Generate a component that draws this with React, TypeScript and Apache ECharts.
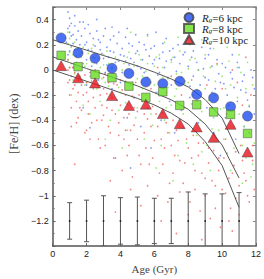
import React, { useEffect, useRef } from 'react';
import * as echarts from 'echarts';

// Binned mean [Fe/H] per age bin for three guiding radii
const binAges = [0.5, 1.5, 2.5, 3.5, 4.5, 5.5, 6.5, 7.5, 8.5, 9.5, 10.5, 11.5];
const feh6 = [0.254, 0.135, 0.093, 0.013, -0.028, -0.096, -0.109, -0.09, -0.195, -0.222, -0.292, -0.367];
const feh8 = [0.116, 0.026, -0.036, -0.062, -0.129, -0.218, -0.173, -0.282, -0.277, -0.334, -0.354, -0.505];
const feh10 = [0.034, -0.062, -0.103, -0.204, -0.282, -0.272, -0.347, -0.427, -0.453, -0.536, -0.432, -0.652];

// Model curves
const modelAges = [0, 1, 2, 3, 4, 5, 6, 7, 8, 9, 10, 11];
const model6 = [0.24, 0.199, 0.157, 0.114, 0.075, 0.032, -0.018, -0.072, -0.135, -0.236, -0.383, -0.665];
const model8 = [0.104, 0.058, 0.011, -0.034, -0.08, -0.127, -0.181, -0.238, -0.313, -0.43, -0.597, -0.859];
const model10 = [0.0, -0.045, -0.09, -0.135, -0.181, -0.226, -0.278, -0.344, -0.43, -0.57, -0.76, -1.092];

// Typical error bars
const errAges = [1, 2, 3, 4, 5, 6, 7, 8, 9, 10, 11];
const errCenter = -1.2;
const errHalf = [0.145, 0.165, 0.2, 0.185, 0.19, 0.18, 0.18, 0.23, 0.215, 0.215, 0.225];

// Individual stars [age, feh]
const blueDots = [
  [0.9, 0.46], [1.0, 0.41], [1.1, 0.37], [0.9, 0.33], [1.0, 0.3], [1.2, 0.28], [0.8, 0.22], [1.1, 0.19], [1.0, 0.15], [0.9, 0.12],
  [1.3, 0.35], [1.5, 0.31], [1.4, 0.24], [1.7, 0.27], [1.6, 0.2], [1.9, 0.33], [2.0, 0.22], [2.2, 0.29], [2.1, 0.16], [2.4, 0.25],
  [2.6, 0.31], [2.5, 0.19], [2.8, 0.22], [3.0, 0.27], [2.9, 0.13], [3.2, 0.18], [3.4, 0.24], [3.3, 0.1], [3.6, 0.14], [3.8, 0.21],
  [3.9, 0.07], [4.1, 0.17], [4.3, 0.26], [4.2, 0.11], [4.5, 0.04], [4.7, 0.19], [4.6, 0.09], [4.9, 0.13], [5.1, 0.22], [5.0, 0.03],
  [5.3, 0.08], [5.5, 0.16], [5.4, -0.02], [5.7, 0.11], [5.9, 0.05], [6.0, 0.19], [6.2, -0.04], [6.3, 0.09], [6.5, 0.14], [6.6, 0.02],
  [6.8, -0.06], [7.0, 0.08], [7.1, 0.17], [7.3, -0.01], [7.5, 0.05], [7.7, 0.12], [7.8, -0.09], [8.0, 0.03], [8.2, 0.1], [8.3, -0.05],
  [8.5, 0.06], [8.7, -0.12], [8.9, 0.01], [9.0, 0.09], [9.2, -0.08], [9.4, 0.03], [9.6, -0.15], [9.8, -0.03], [10.0, 0.05], [10.1, -0.11],
  [10.3, -0.2], [10.5, -0.02], [10.7, -0.14], [10.9, -0.25], [11.0, 0.02], [11.2, -0.09], [11.4, -0.18], [11.6, -0.29], [11.8, -0.06], [11.9, -0.35],
  [1.2, 0.02], [1.5, -0.05], [2.0, -0.12], [2.3, 0.03], [2.7, -0.08], [3.1, -0.02], [3.5, -0.15], [4.0, -0.1], [4.4, -0.38], [4.8, -0.22],
  [5.2, -0.45], [5.6, -0.3], [6.1, -0.18], [6.4, -0.4], [6.9, -0.25], [7.2, -0.5], [7.6, -0.32], [8.1, -0.22], [8.6, -0.42], [9.1, -0.3],
  [9.5, -0.5], [10.2, -0.38], [10.8, -0.55], [11.3, -0.45], [3.7, -0.7], [4.6, -0.78], [5.8, -0.62], [2.2, -0.46], [1.8, -0.3], [9.9, -0.68],
  [1.3, 0.43], [1.8, 0.38], [2.6, 0.4], [3.5, 0.34], [4.4, 0.33], [5.6, 0.28], [6.7, 0.25], [7.9, 0.21], [9.3, 0.17], [10.6, 0.12],
  [1.0, 0.35], [1.1, 0.27], [1.2, 0.21], [1.3, 0.16], [1.4, 0.11], [1.6, 0.38], [1.7, 0.14], [1.9, 0.2], [2.0, 0.08], [2.1, 0.36],
  [2.3, 0.15], [2.4, 0.1], [2.6, 0.05], [2.7, 0.24], [2.8, 0.16], [3.0, 0.09], [3.1, 0.33], [3.2, 0.04], [3.4, 0.15], [3.5, 0.02],
  [3.6, 0.27], [3.7, 0.06], [3.9, 0.3], [4.0, 0.12], [4.1, -0.02], [4.3, 0.07], [4.5, 0.21], [4.8, 0.06], [4.9, 0.28], [5.0, 0.15],
  [5.2, 0.01], [5.4, 0.2], [5.6, -0.06], [5.8, 0.17], [6.0, 0.08], [6.1, 0.3], [6.3, -0.02], [6.5, 0.21], [6.7, 0.07], [6.9, 0.15],
  [7.0, -0.12], [7.2, 0.1], [7.4, 0.2], [7.6, -0.06], [7.8, 0.14], [8.0, 0.25], [8.1, -0.13], [8.3, 0.15], [8.6, 0.0], [8.8, 0.18],
  [9.0, -0.06], [9.2, 0.12], [9.4, -0.18], [9.7, 0.08], [9.9, -0.1], [10.2, 0.02], [10.4, -0.28], [10.6, -0.07], [10.9, 0.06], [11.1, -0.16],
  [11.3, -0.04], [11.5, -0.24], [11.7, 0.0], [11.9, -0.15],
];
const greenDots = [
  [0.9, 0.3], [1.0, 0.25], [1.1, 0.18], [0.9, 0.08], [1.0, 0.02], [1.2, 0.12], [1.3, -0.03], [1.5, 0.16], [1.4, 0.06], [1.7, 0.1],
  [1.6, -0.06], [1.9, 0.03], [2.1, 0.13], [2.0, -0.1], [2.3, 0.06], [2.5, -0.02], [2.4, 0.2], [2.7, 0.09], [2.9, -0.07], [3.0, 0.04],
  [3.2, 0.15], [3.3, -0.13], [3.5, 0.01], [3.7, 0.1], [3.8, -0.05], [4.0, -0.18], [4.2, 0.05], [4.3, -0.09], [4.5, 0.14], [4.7, -0.02],
  [4.8, -0.22], [5.0, -0.07], [5.2, 0.08], [5.3, -0.15], [5.5, -0.01], [5.7, -0.26], [5.8, -0.1], [6.0, 0.03], [6.2, -0.18], [6.3, 0.12],
  [6.5, -0.06], [6.7, -0.3], [6.8, -0.14], [7.0, 0.06], [7.2, -0.21], [7.3, -0.03], [7.5, 0.15], [7.7, -0.35], [7.8, -0.11], [8.0, 0.01],
  [8.2, -0.27], [8.4, 0.09], [8.5, -0.16], [8.7, -0.4], [8.9, -0.05], [9.0, 0.12], [9.2, -0.24], [9.4, -0.47], [9.6, -0.09], [9.7, 0.04],
  [9.9, -0.31], [10.1, -0.55], [10.2, -0.15], [10.4, 0.07], [10.6, -0.38], [10.7, -0.62], [10.9, -0.22], [11.1, -0.02], [11.3, -0.45], [11.4, -0.7],
  [11.6, -0.28], [11.8, -0.12], [11.9, -0.58], [11.7, -0.85], [11.2, -0.9], [10.5, -0.8],
  [1.1, -0.2], [1.8, -0.28], [2.2, -0.35], [2.8, -0.25], [3.4, -0.4], [3.9, -0.32], [4.4, -0.48], [4.9, -0.38], [5.4, -0.55], [5.9, -0.44],
  [6.4, -0.6], [6.9, -0.5], [7.4, -0.68], [7.9, -0.58], [8.3, -0.75], [8.8, -0.65], [9.3, -0.8], [9.8, -0.72], [4.1, -0.62], [6.1, -0.78],
  [7.1, -0.88], [3.1, -0.55],
  [6.6, 0.22], [7.4, 0.26], [8.1, 0.2], [8.8, 0.24], [9.5, 0.17], [10.3, 0.18], [11.0, 0.12], [11.5, 0.06], [5.6, 0.27], [4.6, 0.3],
  [0.9, 0.21], [1.0, 0.14], [1.1, 0.05], [1.2, -0.08], [1.3, 0.22], [1.5, 0.0], [1.6, 0.12], [1.8, 0.18], [1.9, -0.12], [2.0, 0.05],
  [2.2, -0.05], [2.3, 0.17], [2.5, 0.09], [2.6, -0.15], [2.8, 0.02], [3.0, 0.12], [3.1, -0.1], [3.3, 0.05], [3.4, -0.2], [3.6, -0.03],
  [3.8, 0.08], [3.9, -0.14], [4.1, 0.0], [4.3, -0.26], [4.4, 0.1], [4.6, -0.12], [4.8, 0.03], [5.0, -0.3], [5.1, 0.12], [5.3, -0.05],
  [5.5, -0.2], [5.6, 0.05], [5.8, -0.35], [6.0, -0.12], [6.1, 0.1], [6.3, -0.25], [6.5, 0.02], [6.6, -0.4], [6.8, -0.07], [7.0, -0.28],
  [7.1, 0.1], [7.3, -0.15], [7.5, -0.45], [7.6, -0.02], [7.8, -0.3], [8.0, -0.1], [8.1, 0.08], [8.3, -0.2], [8.5, -0.52], [8.6, 0.0],
  [8.8, -0.33], [9.0, -0.15], [9.1, -0.6], [9.3, 0.02], [9.5, -0.38], [9.6, -0.2], [9.8, -0.48], [10.0, -0.05], [10.1, -0.3], [10.3, -0.66],
  [10.5, -0.12], [10.7, -0.45], [10.9, 0.02], [11.0, -0.35], [11.2, -0.6], [11.4, -0.15], [11.6, -0.5], [11.8, -0.75],
];
const redDots = [
  [0.9, 0.08], [1.0, 0.02], [1.1, -0.05], [0.9, -0.1], [1.2, -0.15], [1.0, -0.2], [1.3, -0.02], [1.5, -0.08], [1.4, -0.25], [1.7, -0.12],
  [1.6, -0.3], [1.9, -0.04], [2.0, -0.18], [2.1, -0.35], [2.3, -0.09], [2.4, -0.22], [2.6, -0.4], [2.7, -0.14], [2.9, -0.28], [3.0, -0.06],
  [3.2, -0.19], [3.3, -0.45], [3.5, -0.32], [3.6, -0.11], [3.8, -0.24], [3.9, -0.52], [4.1, -0.16], [4.2, -0.38], [4.4, -0.27], [4.5, -0.6],
  [4.7, -0.21], [4.8, -0.44], [5.0, -0.33], [5.1, -0.68], [5.3, -0.25], [5.4, -0.5], [5.6, -0.39], [5.7, -0.75], [5.9, -0.29], [6.0, -0.56],
  [6.2, -0.45], [6.3, -0.82], [6.5, -0.34], [6.6, -0.62], [6.8, -0.5], [6.9, -0.9], [7.1, -0.4], [7.2, -0.68], [7.4, -0.56], [7.5, -0.97],
  [7.7, -0.46], [7.8, -0.74], [8.0, -0.62], [8.1, -1.05], [8.3, -0.52], [8.4, -0.8], [8.6, -0.68], [8.7, -1.12], [8.9, -0.58], [9.0, -0.86],
  [9.2, -0.74], [9.3, -1.18], [9.5, -0.64], [9.6, -0.92], [9.8, -0.8], [9.9, -1.25], [10.1, -0.7], [10.2, -0.98], [10.4, -0.86], [10.5, -1.1],
  [10.7, -0.76], [10.8, -1.02], [11.0, -0.92], [11.1, -0.6], [11.3, -0.82], [11.5, -1.0], [11.6, -0.5], [11.8, -0.72], [11.9, -0.95],
  [1.8, 0.05], [2.5, 0.0], [3.1, -0.03], [4.0, -0.08], [4.9, -0.1], [5.8, -0.15], [6.7, -0.18], [7.6, -0.2], [8.5, -0.25], [9.4, -0.3],
  [10.3, -0.35], [11.2, -0.28], [7.0, -0.05], [8.2, -0.08], [9.1, -0.12], [10.0, -0.15], [10.9, -0.1], [11.7, -0.2], [9.7, 0.05], [10.6, 0.0],
  [6.2, 0.02], [11.4, 0.1],
  [1.3, -0.75], [2.8, -0.62], [3.4, -0.88], [4.6, -0.95], [5.2, -1.08], [3.7, -1.13], [6.4, -1.2], [7.3, -1.3], [8.8, -1.35], [10.6, -1.28],
  [2.2, -0.55], [1.1, -0.45], [1.5, -0.38], [2.0, -0.48], [3.0, -0.36], [4.3, -0.48],
  [0.9, 0.0], [1.0, -0.08], [1.1, -0.3], [1.2, 0.02], [1.3, -0.12], [1.4, -0.42], [1.5, -0.18], [1.6, -0.05], [1.7, -0.32], [1.8, -0.2],
  [1.9, -0.5], [2.0, -0.1], [2.1, -0.25], [2.2, -0.02], [2.3, -0.42], [2.4, -0.15], [2.5, -0.3], [2.6, -0.08], [2.7, -0.55], [2.8, -0.2],
  [2.9, -0.4], [3.0, -0.15], [3.1, -0.6], [3.2, -0.3], [3.3, -0.1], [3.4, -0.5], [3.5, -0.22], [3.6, -0.7], [3.7, -0.35], [3.8, -0.12],
  [3.9, -0.42], [4.0, -0.28], [4.1, -0.8], [4.2, -0.55], [4.3, -0.2], [4.4, -0.68], [4.5, -0.35], [4.6, -0.48], [4.7, -0.85], [4.8, -0.3],
  [5.0, -0.55], [5.1, -0.2], [5.2, -0.75], [5.4, -0.35], [5.5, -0.62], [5.6, -0.92], [5.8, -0.45], [5.9, -0.7], [6.1, -0.35], [6.2, -1.0],
  [6.4, -0.55], [6.5, -0.75], [6.7, -0.42], [6.8, -1.05], [7.0, -0.6], [7.1, -0.82], [7.3, -0.48], [7.5, -0.72], [7.7, -0.9], [7.9, -0.55],
  [8.0, -1.15], [8.2, -0.7], [8.4, -0.95], [8.6, -0.58], [8.8, -0.82], [9.0, -1.0], [9.2, -0.62], [9.4, -0.88], [9.6, -1.1], [9.8, -0.7],
  [10.0, -0.95], [10.2, -0.55], [10.4, -1.2], [10.6, -0.82], [10.8, -0.65], [11.0, -1.15], [11.2, -0.72], [11.4, -0.88], [11.6, -1.05], [11.8, -0.6],
];

const seriesNames = ['R_g=6 kpc', 'R_g=8 kpc', 'R_g=10 kpc'];

const zip = (xs: number[], ys: number[]) => xs.map((x, i) => [x, ys[i]]);

const SERIF = '"Liberation Serif", "Times New Roman", serif';
const SANS = '"Liberation Sans", Arial, sans-serif';

export default function App() {
  const ref = useRef<HTMLDivElement>(null);
  useEffect(() => {
    if (!ref.current) return;
    const chart = echarts.init(ref.current, undefined, { renderer: 'svg' });
    const fmtY = (v: number) => {
      if (v > 0.45 || v < -1.35) return '';
      const r = Math.round(v * 10) / 10;
      return String(r).replace('-', '\u2212');
    };
    const dotSeries = (data: number[][], color: string) => ({
      type: 'scatter',
      data,
      symbol: 'circle',
      symbolSize: 1.7,
      silent: true,
      itemStyle: { color, opacity: 0.75 },
      z: 1,
    });
    const lineSeries = (ys: number[]) => ({
      type: 'line',
      data: zip(modelAges, ys),
      showSymbol: false,
      symbol: 'none',
      silent: true,
      lineStyle: { color: '#555', width: 1 },
      z: 2,
    });
    const markerBorder = { borderColor: '#444', borderWidth: 0.6 };
    chart.setOption({
      animation: false,
      grid: { left: 35, right: 8, top: 7, bottom: 26 },
      legend: {
        data: seriesNames,
        orient: 'vertical',
        left: 183,
        top: 12,
        padding: 0,
        itemWidth: 10,
        itemHeight: 9,
        itemGap: 0,
        selectedMode: false,
        formatter: (name: string) => {
          const m = name.match(/^R_g(.*)$/);
          return m ? `{i|R}{s|g}{n|${m[1]}}` : name;
        },
        textStyle: {
          fontFamily: SERIF,
          fontSize: 11,
          color: '#222',
          rich: {
            i: { fontFamily: SERIF, fontSize: 11, fontStyle: 'italic', lineHeight: 10, padding: [0, 0, 0, 3], color: '#222' },
            s: { fontFamily: SERIF, fontSize: 7, fontStyle: 'italic', lineHeight: 6, padding: [4, 0, 0, 0], color: '#222' },
            n: { fontFamily: SERIF, fontSize: 11, lineHeight: 10, color: '#222' },
          },
        },
      },
      xAxis: [
        {
          type: 'value',
          min: 0,
          max: 12,
          interval: 2,
          name: 'Age (Gyr)',
          nameLocation: 'middle',
          nameGap: 12,
          nameTextStyle: { fontFamily: SERIF, fontSize: 11, color: '#444' },
          axisLine: { show: true, onZero: false, lineStyle: { color: '#555', width: 1.5 } },
          axisTick: { show: true, inside: true, length: 3, lineStyle: { color: '#666' } },
          axisLabel: { fontFamily: SANS, fontSize: 9, color: '#222', margin: 3 },
          splitLine: { show: false },
        },
        {
          type: 'value',
          position: 'top',
          min: 0,
          max: 12,
          interval: 2,
          axisLine: { show: true, onZero: false, lineStyle: { color: '#888', width: 1.5 } },
          axisTick: { show: true, inside: true, length: 3, lineStyle: { color: '#888' } },
          axisLabel: { show: false },
          splitLine: { show: false },
        },
      ],
      yAxis: [
        {
          type: 'value',
          min: -1.4,
          max: 0.5,
          interval: 0.2,
          name: '[Fe/H] (dex)',
          nameLocation: 'middle',
          nameGap: 22,
          nameTextStyle: { fontFamily: SERIF, fontSize: 12, color: '#444', padding: [0, 0, 0, 6] },
          axisLine: { show: true, onZero: false, lineStyle: { color: '#555', width: 1.5 } },
          axisTick: { show: true, inside: true, length: 3, lineStyle: { color: '#666' } },
          minorTick: { show: true, splitNumber: 2, length: 2, lineStyle: { color: '#777' } },
          axisLabel: { fontFamily: SANS, fontSize: 9, color: '#222', margin: 4, formatter: fmtY },
          splitLine: { show: false },
          minorSplitLine: { show: false },
        },
        {
          type: 'value',
          position: 'right',
          min: -1.4,
          max: 0.5,
          interval: 0.2,
          axisLine: { show: true, onZero: false, lineStyle: { color: '#888', width: 1.5 } },
          axisTick: { show: true, inside: true, length: 3, lineStyle: { color: '#888' } },
          axisLabel: { show: false },
          splitLine: { show: false },
        },
      ],
      series: [
        dotSeries(blueDots, '#5a78f5'),
        dotSeries(greenDots, '#7ee04c'),
        dotSeries(redDots, '#f05a5a'),
        lineSeries(model6),
        lineSeries(model8),
        lineSeries(model10),
        {
          type: 'custom',
          clip: true,
          silent: true,
          data: errAges.map((a, i) => [a, errCenter, errHalf[i]]),
          renderItem: (params: any, api: any) => {
            const x = api.value(0);
            const c = api.value(1);
            const h = api.value(2);
            const top = api.coord([x, c + h]);
            const bot = api.coord([x, c - h]);
            const mid = api.coord([x, c]);
            const cap = 2.5;
            const st = { stroke: '#555', lineWidth: 1 };
            return {
              type: 'group',
              children: [
                { type: 'line', shape: { x1: top[0], y1: top[1], x2: bot[0], y2: bot[1] }, style: st },
                { type: 'line', shape: { x1: top[0] - cap, y1: top[1], x2: top[0] + cap, y2: top[1] }, style: st },
                { type: 'line', shape: { x1: bot[0] - cap, y1: bot[1], x2: bot[0] + cap, y2: bot[1] }, style: st },
                { type: 'circle', shape: { cx: mid[0], cy: mid[1], r: 0.9 }, style: { fill: '#222' } },
              ],
            };
          },
          z: 2,
        },
        {
          name: seriesNames[0],
          type: 'scatter',
          data: zip(binAges, feh6),
          symbol: 'circle',
          symbolSize: 10,
          itemStyle: { color: '#1f4cf0', ...markerBorder },
          z: 5,
        },
        {
          name: seriesNames[1],
          type: 'scatter',
          data: zip(binAges, feh8),
          symbol: 'rect',
          symbolSize: 8.5,
          itemStyle: { color: '#66dd22', ...markerBorder },
          z: 5,
        },
        {
          name: seriesNames[2],
          type: 'scatter',
          data: zip(binAges, feh10),
          symbol: 'triangle',
          symbolSize: [11, 10],
          itemStyle: { color: '#e8101a', ...markerBorder },
          z: 5,
        },
      ],
    });
    return () => chart.dispose();
  }, []);
  return <div ref={ref} style={{ position: 'absolute', left: 0, top: 0, width: 264, height: 279, background: '#fff' }} />;
}
